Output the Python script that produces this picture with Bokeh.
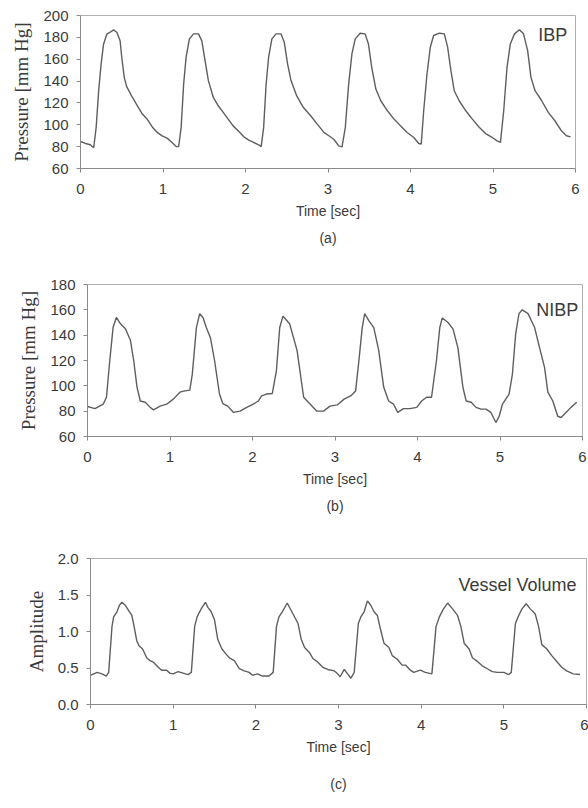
from bokeh.plotting import figure
from bokeh.models import Label, Title, Range1d, SingleIntervalTicker, NumeralTickFormatter
from bokeh.embed import file_html
from bokeh.resources import INLINE

# ---------------- data ----------------
ibp_t = [0.00, 0.06, 0.12, 0.16, 0.19, 0.22, 0.25, 0.28, 0.32, 0.36, 0.40, 0.44, 0.48, 0.50, 0.53, 0.56, 0.63, 0.69, 0.75, 0.81, 0.87, 0.93, 0.99, 1.05, 1.11, 1.16,
         1.19, 1.22, 1.25, 1.28, 1.32, 1.37, 1.43, 1.47, 1.51, 1.55, 1.61, 1.67, 1.73, 1.79, 1.85, 1.92, 1.98, 2.04, 2.10, 2.16, 2.19,
         2.22, 2.25, 2.28, 2.32, 2.37, 2.43, 2.47, 2.51, 2.55, 2.62, 2.70, 2.79, 2.87, 2.95, 3.01, 3.07, 3.13, 3.17,
         3.21, 3.25, 3.29, 3.33, 3.39, 3.45, 3.49, 3.53, 3.58, 3.64, 3.72, 3.80, 3.88, 3.96, 4.04, 4.10, 4.13,
         4.16, 4.20, 4.24, 4.28, 4.35, 4.41, 4.45, 4.49, 4.53, 4.59, 4.67, 4.75, 4.83, 4.91, 4.99, 5.05, 5.09,
         5.13, 5.17, 5.21, 5.26, 5.32, 5.37, 5.42, 5.46, 5.51, 5.59, 5.67, 5.75, 5.83, 5.89, 5.94]
ibp_v = [84.7, 82.9, 81.7, 79, 97.6, 131, 155.7, 174, 183, 184.7, 186.9, 184.7, 177, 161.8, 143.4, 134.9, 125, 117.4, 109.8, 105, 98, 93, 89.9, 87.8, 83.8, 80.1,
         80, 97.6, 137, 161.8, 178.6, 183.2, 183.2, 177, 158.7, 140.4, 125, 117.4, 111.3, 105.2, 99, 93.9, 89, 86, 83.8, 81.7, 80,
         97.6, 137, 161.8, 178.6, 183.2, 183.2, 175.5, 155.7, 141, 126.6, 116, 108.3, 100.6, 93, 90, 86.8, 80.7, 79.8,
         97.6, 137, 164.8, 178.6, 183.8, 183.2, 174, 152.6, 132.7, 122, 112.8, 105.2, 99, 93, 88.4, 82.9, 82.3,
         112.8, 146.5, 171, 181.7, 183.8, 183.2, 171, 149.5, 131.2, 122, 112.8, 105.2, 98, 92, 88.4, 85.3, 83.8,
         112.8, 152.6, 174, 183.2, 186.9, 183.2, 167.9, 143.4, 131.2, 122, 111.3, 103.7, 94.5, 90, 89]

nibp_t = [0.00, 0.09, 0.19, 0.23, 0.27, 0.31, 0.35, 0.40, 0.46, 0.52,
          0.56, 0.60, 0.64, 0.70, 0.76, 0.80, 0.88, 0.96, 1.04, 1.12,
          1.18, 1.24, 1.27, 1.32, 1.36, 1.40, 1.44, 1.49, 1.54, 1.60,
          1.64, 1.70, 1.77, 1.85, 1.93, 2.01, 2.07, 2.11, 2.17, 2.24,
          2.29, 2.33, 2.37, 2.45, 2.54, 2.62, 2.70, 2.78, 2.86, 2.94,
          3.03, 3.11, 3.19, 3.25, 3.29, 3.33, 3.36, 3.41, 3.47, 3.53,
          3.59, 3.65, 3.71, 3.76, 3.83, 3.91, 3.99, 4.05, 4.11, 4.17,
          4.23, 4.27, 4.30, 4.37, 4.43, 4.49, 4.55, 4.59, 4.65, 4.71,
          4.77, 4.83, 4.89, 4.95, 4.99, 5.03, 5.11, 5.15, 5.19, 5.23,
          5.27, 5.34, 5.42, 5.48, 5.54, 5.58, 5.64, 5.70, 5.74, 5.80,
          5.86, 5.93]
nibp_v = [83.7, 82, 85.5, 91, 120, 146, 154, 149, 145, 136,
          120, 99, 88, 87, 83, 81, 84, 85.5, 89.5, 95,
          96, 96.6, 109, 146, 157, 154, 146, 138, 120, 93.5,
          86, 84, 79, 80, 83, 85.5, 88, 92, 93.5, 94,
          112, 146, 155, 149, 128, 91, 85.5, 80, 80, 84,
          85, 89.5, 92, 96, 120, 146, 157, 151.5, 146, 128,
          99, 88, 85.5, 79, 82, 82, 83, 88, 91, 91,
          120, 146, 153.6, 150, 145, 130, 99, 88, 87, 83,
          81.6, 81.6, 79, 71, 76, 85.5, 93.5, 109, 141, 157,
          160, 157, 146, 130, 114.6, 95, 88, 76, 75, 79,
          83, 87]

vv_t = [0.00, 0.08, 0.14, 0.19, 0.22, 0.26, 0.28, 0.32, 0.35, 0.38,
        0.42, 0.46, 0.50, 0.52, 0.56, 0.59, 0.63, 0.68, 0.72, 0.76,
        0.82, 0.86, 0.92, 0.96, 1.00, 1.06, 1.12, 1.18, 1.22, 1.26,
        1.29, 1.32, 1.35, 1.39, 1.42, 1.46, 1.50, 1.54, 1.59, 1.64,
        1.68, 1.74, 1.80, 1.86, 1.92, 1.96, 2.02, 2.08, 2.16, 2.21,
        2.25, 2.28, 2.32, 2.38, 2.45, 2.51, 2.55, 2.59, 2.65, 2.69,
        2.75, 2.81, 2.87, 2.95, 2.99, 3.02, 3.07, 3.11, 3.15, 3.19,
        3.24, 3.27, 3.31, 3.35, 3.39, 3.43, 3.47, 3.51, 3.55, 3.61,
        3.65, 3.71, 3.77, 3.81, 3.87, 3.91, 3.99, 4.05, 4.13, 4.18,
        4.22, 4.27, 4.32, 4.38, 4.44, 4.48, 4.52, 4.58, 4.62, 4.68,
        4.74, 4.80, 4.86, 4.92, 5.00, 5.06, 5.09, 5.14, 5.18, 5.22,
        5.27, 5.32, 5.38, 5.42, 5.46, 5.52, 5.58, 5.64, 5.70, 5.76,
        5.84, 5.92]
vv_v = [0.40, 0.44, 0.42, 0.39, 0.44, 1.07, 1.20, 1.27, 1.36, 1.40,
        1.36, 1.29, 1.22, 1.11, 0.87, 0.80, 0.76, 0.64, 0.60, 0.58,
        0.51, 0.47, 0.47, 0.43, 0.42, 0.45, 0.43, 0.41, 0.44, 1.07,
        1.20, 1.27, 1.33, 1.40, 1.33, 1.27, 1.16, 0.89, 0.76, 0.69,
        0.64, 0.60, 0.49, 0.46, 0.44, 0.40, 0.42, 0.39, 0.39, 0.44,
        1.07, 1.20, 1.27, 1.39, 1.24, 1.11, 0.89, 0.78, 0.71, 0.63,
        0.58, 0.51, 0.48, 0.46, 0.42, 0.38, 0.48, 0.42, 0.36, 0.44,
        1.11, 1.20, 1.27, 1.42, 1.36, 1.27, 1.22, 1.02, 0.84, 0.78,
        0.67, 0.62, 0.54, 0.54, 0.47, 0.44, 0.47, 0.44, 0.42, 1.07,
        1.20, 1.31, 1.39, 1.31, 1.22, 1.07, 0.84, 0.76, 0.64, 0.59,
        0.53, 0.49, 0.45, 0.44, 0.44, 0.41, 0.44, 1.11, 1.22, 1.31,
        1.38, 1.31, 1.24, 1.07, 0.82, 0.76, 0.67, 0.59, 0.51, 0.46,
        0.42, 0.41]

x_label = "Time [sec]"
panel_names = ["IBP", "NIBP", "Vessel Volume"]
panel_tags = ["(a)", "(b)", "(c)"]
y_labels = ["Pressure [mm Hg]", "Pressure [mm Hg]", "Amplitude"]

LINE = "#5e5e5e"
TXT = "#3a3a3a"
SANS = "Liberation Sans"
SERIF = "Liberation Serif"


def make_panel(t, v, yr, ystep, ylabel, name, name_pos, tag, h, top, left, right, bottom,
               tag_standoff, fmt=None):
    p = figure(width=588, height=h, output_backend="svg", toolbar_location=None,
               x_range=Range1d(0, 6), y_range=Range1d(*yr),
               min_border_left=left, min_border_right=right,
               min_border_top=top, min_border_bottom=bottom)
    p.xgrid.visible = False
    p.ygrid.visible = False
    p.outline_line_color = "#b0b0b0"
    p.outline_line_width = 1
    p.background_fill_color = "white"
    p.border_fill_color = "white"

    p.line(t, v, line_color=LINE, line_width=1.4)

    p.xaxis.ticker = SingleIntervalTicker(interval=1)
    p.yaxis.ticker = SingleIntervalTicker(interval=ystep)
    if fmt:
        p.yaxis.formatter = NumeralTickFormatter(format=fmt)
    for ax in (p.xaxis, p.yaxis):
        ax.axis_line_color = "#8a8a8a"
        ax.major_tick_line_color = "#8a8a8a"
        ax.minor_tick_line_color = None
        ax.major_tick_in = 0
        ax.major_tick_out = 4
        ax.major_label_text_font = SANS
        ax.major_label_text_font_size = "15px"
        ax.major_label_text_color = TXT
    p.xaxis.major_label_standoff = 11
    p.yaxis.major_label_standoff = 8
    p.xaxis.axis_label = x_label
    p.xaxis.axis_label_text_font = SANS
    p.xaxis.axis_label_text_font_size = "14px"
    p.xaxis.axis_label_text_font_style = "normal"
    p.xaxis.axis_label_text_color = TXT
    p.xaxis.axis_label_standoff = 6
    p.yaxis.axis_label = ylabel
    p.yaxis.axis_label_text_font = SERIF
    p.yaxis.axis_label_text_font_size = "19px"
    p.yaxis.axis_label_text_font_style = "normal"
    p.yaxis.axis_label_text_color = TXT
    p.yaxis.axis_label_standoff = 8

    p.add_layout(Label(x=name_pos[0], y=name_pos[1], text=name, text_align="right",
                       text_baseline="middle", text_font=SANS, text_font_size="18px",
                       text_color=TXT))
    p.add_layout(Title(text=tag, align="center", text_font=SANS, text_font_size="14px",
                       text_font_style="normal", text_color=TXT, standoff=tag_standoff),
                 "below")
    return p


pa = make_panel(ibp_t, ibp_v, (60, 200), 20, y_labels[0], panel_names[0], (5.9, 182),
                panel_tags[0], 252, 15, 80, 13, 84, 12)
pb = make_panel(nibp_t, nibp_v, (60, 180), 20, y_labels[1], panel_names[1], (5.95, 159.5),
                panel_tags[1], 270, 32, 87, 6, 86, 13)
pc = make_panel(vv_t, vv_v, (0, 2), 0.5, y_labels[2], panel_names[2], (5.88, 1.64),
                panel_tags[2], 286, 36, 90, 2, 98, 33, fmt="0.0")

open("out.html", "w").write(file_html([pa, pb, pc], INLINE))
